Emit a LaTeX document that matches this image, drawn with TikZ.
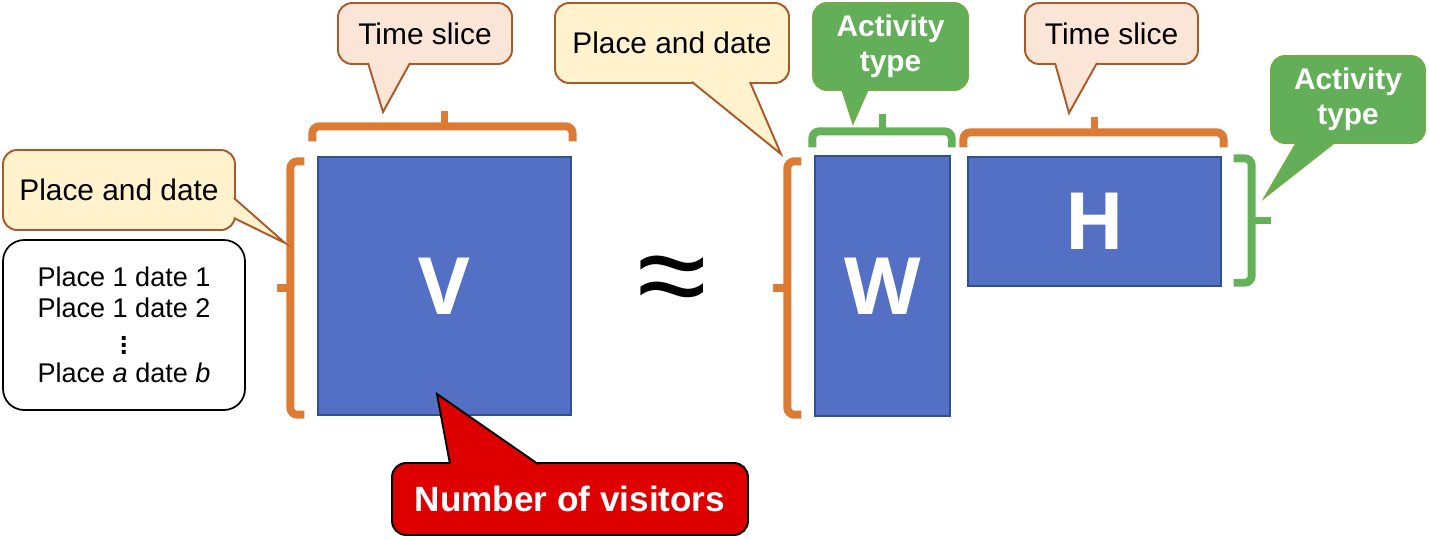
\documentclass[tikz,border=0pt]{standalone}
\usepackage{fontspec}
\setmainfont{Liberation Sans}
\newfontfamily\matfont{Open Sans}
\usetikzlibrary{calc}
\definecolor{matBlue}{RGB}{84,112,196}
\definecolor{matEdge}{RGB}{47,82,143}
\definecolor{brOrange}{RGB}{219,123,52}
\definecolor{brGreen}{RGB}{99,178,87}
\definecolor{calPeach}{RGB}{250,229,214}
\definecolor{calYellow}{RGB}{255,242,204}
\definecolor{calEdge}{RGB}{170,90,40}
\definecolor{calGreen}{RGB}{99,175,89}
\definecolor{calGreenEdge}{RGB}{112,173,71}
\definecolor{nvRed}{RGB}{222,0,0}

% pointer of a callout: fill, edge, base 1, tip, base 2
\newcommand{\calltail}[5]{%
  \fill[#1] #3 -- #4 -- #5 -- cycle;
  \draw[#2,line width=1.1pt,line join=miter] #3 -- #4 -- #5;}

\begin{document}
\begin{tikzpicture}[x=0.02cm,y=-0.02cm,
  mat/.style={draw=matEdge,fill=matBlue,line width=0.8pt,text=white,inner sep=0pt,font=\matfont\bfseries\fontsize{45}{45}\selectfont},
  call/.style={rounded corners=8pt,line width=1.1pt,align=center,inner sep=0pt,font=\fontsize{17}{20}\selectfont},
  peach/.style={call,draw=calEdge,fill=calPeach,minimum height=1.22cm},
  yellow/.style={call,draw=calEdge,fill=calYellow,minimum height=1.6cm},
  green/.style={call,draw=calGreenEdge,fill=calGreen,text=white,minimum height=1.74cm,font=\bfseries\fontsize{17}{20}\selectfont},
  brkO/.style={draw=brOrange,line width=4.5pt,rounded corners=4pt},
  brkG/.style={draw=brGreen,line width=4.5pt,rounded corners=4pt}
]
  \useasboundingbox (0,0) rectangle (1429,539);

  % matrices
  \node[mat,minimum width=5.06cm,minimum height=5.16cm] (V) at (444.5,286) {V};
  \node[mat,minimum width=2.7cm,minimum height=5.2cm] (W) at (882.5,286) {W};
  \node[mat,minimum width=5.06cm,minimum height=2.58cm] (H) at (1094.5,221.5) {H};
  \node[inner sep=0pt,font=\fontsize{72}{72}\selectfont] (apx) at (672,287) {≈};

  % brackets
  \draw[brkO] ($(V.north west)+(-13,5)$) -- ($(V.north west)+(-27,5)$) -- ($(V.south west)+(-27,-1)$) -- ($(V.south west)+(-13,-1)$);
  \draw[brkO] ($(V.west)+(-27,2)$) -- ++(-13,0);
  \draw[brkO] ($(V.north west)+(-5,-15)$) -- ($(V.north west)+(-5,-30)$) -- ($(V.north east)+(1,-30)$) -- ($(V.north east)+(1,-15)$);
  \draw[brkO] ($(V.north)+(0,-30)$) -- ++(0,-15);
  \draw[brkO] ($(W.north west)+(-13,6)$) -- ($(W.north west)+(-27,6)$) -- ($(W.south west)+(-27,-2)$) -- ($(W.south west)+(-13,-2)$);
  \draw[brkO] ($(W.west)+(-27,2)$) -- ++(-14,0);
  \draw[brkG] ($(W.north west)+(-2,-8)$) -- ($(W.north west)+(-2,-24)$) -- ($(W.north east)+(1,-24)$) -- ($(W.north east)+(1,-8)$);
  \draw[brkG] ($(W.north)+(0,-24)$) -- ++(0,-17);
  \draw[brkO] ($(H.north west)+(-4,-9)$) -- ($(H.north west)+(-4,-24)$) -- ($(H.north east)+(2,-24)$) -- ($(H.north east)+(2,-9)$);
  \draw[brkO] ($(H.north)+(0,-24)$) -- ++(0,-15);
  \draw[brkG] ($(H.north east)+(12,2)$) -- ($(H.north east)+(30,2)$) -- ($(H.south east)+(30,-4)$) -- ($(H.south east)+(12,-4)$);
  \draw[brkG] ($(H.east)+(30,-1)$) -- ++(19,0);

  % callouts
  \node[peach,minimum width=3.48cm] (tsV) at (425,33.5) {Time slice};
  \node[yellow,minimum width=4.64cm] (pdL) at (119,190) {Place and date};
  \node[yellow,minimum width=4.68cm] (pdR) at (672,43) {Place and date};
  \node[green,minimum width=3.1cm] (atW) at (890.5,46.5) {Activity\\type};
  \node[peach,minimum width=3.46cm] (tsH) at (1111.5,33.5) {Time slice};
  \node[green,minimum width=3.08cm] (atH) at (1348,99.5) {Activity\\type};
  \node[call,draw=black,fill=nvRed,text=white,minimum width=7.12cm,minimum height=1.44cm,font=\bfseries\fontsize{20}{24}\selectfont] (nv) at (570,499) {Number of visitors};

  \coordinate (tsVtip) at (383,112);
  \coordinate (pdLtip) at (285,243);
  \coordinate (pdRtip) at (781,154);
  \coordinate (atWtip) at (853,123);
  \coordinate (tsHtip) at (1069,113);
  \coordinate (atHtip) at (1265,197);
  \coordinate (nvtip) at (437,394);
  \calltail{calPeach}{calEdge}{($(tsV.south)+(-57,-2)$)}{(tsVtip)}{($(tsV.south)+(-15,-2)$)}
  \calltail{calYellow}{calEdge}{($(pdL.east)+(-2,8)$)}{(pdLtip)}{($(pdL.east)+(-2,28)$)}
  \calltail{calYellow}{calEdge}{($(pdR.south)+(20,-2)$)}{(pdRtip)}{($(pdR.south)+(78,-2)$)}
  \calltail{calGreen}{calGreenEdge}{($(atW.south)+(-48.5,-2)$)}{(atWtip)}{($(atW.south)+(-22.5,-2)$)}
  \calltail{calPeach}{calEdge}{($(tsH.south)+(-56.5,-2)$)}{(tsHtip)}{($(tsH.south)+(-14.5,-2)$)}
  \calltail{calGreen}{calGreenEdge}{($(atH.south)+(-51,-2)$)}{(atHtip)}{($(atH.south)+(-13,-2)$)}
  \calltail{nvRed}{black}{($(nv.north)+(-120,2)$)}{(nvtip)}{($(nv.north)+(-32,2)$)}

  % list of rows
  \node[draw,rounded corners=12pt,line width=1pt,align=center,minimum width=4.84cm,minimum height=3.4cm,font=\fontsize{15.4}{17.6}\selectfont] (lst) at (124,325)
    {Place 1 date 1\\Place 1 date 2\\[3.5pt]{\bfseries\vdots}\\[-1.6pt]Place \textit{a} date \textit{b}};
\end{tikzpicture}
\end{document}
